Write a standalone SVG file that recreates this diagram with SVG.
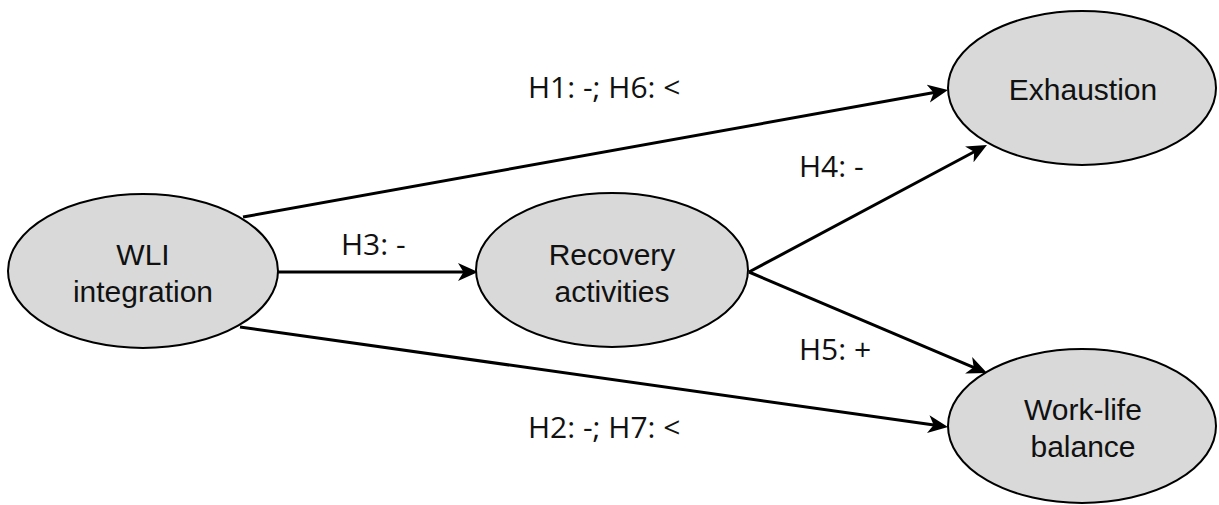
<svg xmlns="http://www.w3.org/2000/svg" width="1219" height="505" viewBox="0 0 1219 505">
<style>
.node{fill:#d9d9d9;stroke:#000;stroke-width:2}
.nt{font-family:"Liberation Sans",Arial,sans-serif;font-size:30px;fill:#111;text-anchor:middle}
.edge{stroke:#000;stroke-width:3;fill:none;marker-end:url(#arr)}
.lbl{font-family:"Open Sans","Noto Sans",sans-serif;font-size:30px;fill:#111}
</style>
<defs>
<marker id="arr" markerUnits="userSpaceOnUse" markerWidth="22" markerHeight="20" refX="13" refY="9" orient="auto" viewBox="0 0 22 18">
<path d="M0,0 L20,9 L0,18 L5.5,9 Z" fill="#000"/>
</marker>
</defs>
<rect width="1219" height="505" fill="#fff"/>
<g id="connectors">
<line class="edge" x1="243" y1="217" x2="941.1" y2="91.3"/>
<line class="edge" x1="278" y1="272" x2="471" y2="272"/>
<line class="edge" x1="240" y1="327" x2="941.1" y2="426.0"/>
<line class="edge" x1="749" y1="272" x2="980.8" y2="148.3"/>
<line class="edge" x1="749" y1="272" x2="980.6" y2="370.3"/>
<text class="lbl" x="528" y="98">H1: -; H6: &lt;</text>
<text class="lbl" x="341" y="255">H3: -</text>
<text class="lbl" x="528" y="438">H2: -; H7: &lt;</text>
<text class="lbl" x="799" y="177">H4: -</text>
<text class="lbl" x="799" y="360">H5: +</text>
</g>
<g id="wli">
<ellipse class="node" cx="143" cy="271" rx="135" ry="77"/>
<text class="nt" x="143" y="265">WLI</text>
<text class="nt" x="143" y="302">integration</text>
</g>
<g id="recovery">
<ellipse class="node" cx="612" cy="270" rx="136" ry="77"/>
<text class="nt" x="612" y="265">Recovery</text>
<text class="nt" x="612" y="302">activities</text>
</g>
<g id="exhaustion">
<ellipse class="node" cx="1082" cy="88" rx="134" ry="77"/>
<text class="nt" x="1083" y="100">Exhaustion</text>
</g>
<g id="worklife">
<ellipse class="node" cx="1082" cy="426" rx="134" ry="77"/>
<text class="nt" x="1083" y="420">Work-life</text>
<text class="nt" x="1083" y="457">balance</text>
</g>
</svg>
